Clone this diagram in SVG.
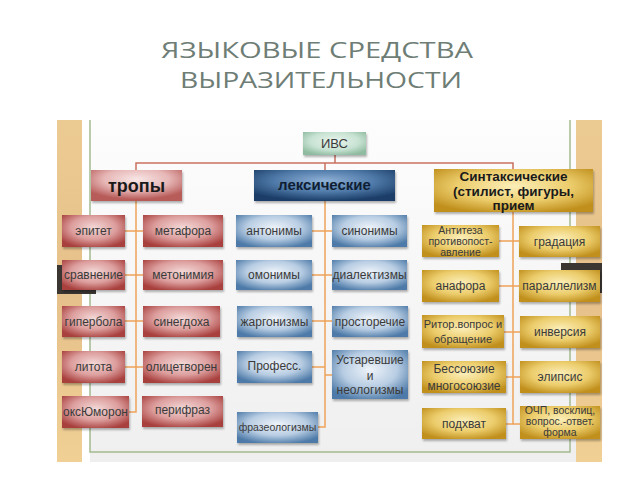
<svg xmlns="http://www.w3.org/2000/svg" width="640" height="480" viewBox="0 0 640 480">
<defs>
<radialGradient id="gRed" cx="50%" cy="40%" r="65%">
<stop offset="0" stop-color="#f3d9d8"/><stop offset="0.55" stop-color="#dc9e9d"/><stop offset="1" stop-color="#a83f3d"/>
</radialGradient>
<radialGradient id="gBlue" cx="50%" cy="40%" r="65%">
<stop offset="0" stop-color="#eef3f9"/><stop offset="0.55" stop-color="#b8cde3"/><stop offset="1" stop-color="#4d7aa8"/>
</radialGradient>
<radialGradient id="gGold" cx="50%" cy="40%" r="65%">
<stop offset="0" stop-color="#fbeeb8"/><stop offset="0.55" stop-color="#eccd6c"/><stop offset="1" stop-color="#c08f1c"/>
</radialGradient>
<radialGradient id="gNavy" cx="50%" cy="35%" r="65%">
<stop offset="0" stop-color="#8fb1d6"/><stop offset="0.55" stop-color="#4f79a8"/><stop offset="1" stop-color="#1b3e68"/>
</radialGradient>
<radialGradient id="gPink" cx="50%" cy="30%" r="65%">
<stop offset="0" stop-color="#f8e6e6"/><stop offset="0.55" stop-color="#e6b7b6"/><stop offset="1" stop-color="#b85c5a"/>
</radialGradient>
<radialGradient id="gMint" cx="50%" cy="40%" r="65%">
<stop offset="0" stop-color="#eaf5ee"/><stop offset="0.6" stop-color="#c7e2d2"/><stop offset="1" stop-color="#8fbba0"/>
</radialGradient>
<linearGradient id="gBg" x1="0" y1="0" x2="0" y2="1">
<stop offset="0" stop-color="#fdfdfd"/><stop offset="1" stop-color="#efefef"/>
</linearGradient>
<linearGradient id="gTan" x1="0" y1="0" x2="0" y2="1">
<stop offset="0" stop-color="#eccb92"/><stop offset="0.5" stop-color="#e6c08a"/><stop offset="1" stop-color="#f0d095"/>
</linearGradient>
<filter id="sh" x="-10%" y="-10%" width="125%" height="135%">
<feDropShadow dx="1" dy="2" stdDeviation="1.2" flood-color="#000" flood-opacity="0.3"/>
</filter>
</defs>
<style>
.title{font-family:"Open Sans","DejaVu Sans",sans-serif;font-size:22px;fill:#6e7d75;text-anchor:middle}
.t{font-family:"Liberation Sans",Arial,sans-serif;font-size:12px;fill:#3a3a3a;text-anchor:middle}
.s{font-family:"Liberation Sans",Arial,sans-serif;font-size:11px;fill:#3a3a3a;text-anchor:middle}
.x{font-family:"Liberation Sans",Arial,sans-serif;font-size:10.5px;fill:#3a3a3a;text-anchor:middle}
.h{font-family:"Liberation Sans",Arial,sans-serif;font-weight:bold;fill:#1a1a1a;text-anchor:middle}
.red{fill:url(#gRed);filter:url(#sh)}
.blue{fill:url(#gBlue);filter:url(#sh)}
.gold{fill:url(#gGold);filter:url(#sh)}
.or{stroke:#eea25a;stroke-width:1.5;fill:none}
.top{stroke:#c9705f;stroke-width:1.5;fill:none}
</style>
<rect width="640" height="480" fill="#ffffff"/>
<text class="title" x="317" y="58" textLength="312" lengthAdjust="spacingAndGlyphs">ЯЗЫКОВЫЕ СРЕДСТВА</text>
<text class="title" x="321" y="88" textLength="282" lengthAdjust="spacingAndGlyphs">ВЫРАЗИТЕЛЬНОСТИ</text>

<g id="background">
<rect x="57" y="120" width="545" height="342" fill="url(#gBg)"/>
<rect x="57" y="120" width="25" height="342" fill="url(#gTan)"/>
<rect x="82" y="120" width="8" height="342" fill="#ffffff"/>
<rect x="576" y="120" width="26" height="342" fill="url(#gTan)"/>
<polyline points="90,120 90,452 570,452 570,120" fill="none" stroke="#a3bb90" stroke-width="1.5"/>
<rect x="57" y="265" width="39" height="29" fill="#3b3632"/>
<rect x="561" y="263" width="41" height="30" fill="#3b3632"/>
</g>

<g id="connectors">
<polyline class="top" points="335,155 335,163"/>
<polyline class="top" points="136,170 136,163 513,163 513,169"/>
<polyline class="top" points="325,163 325,170"/>
<polyline class="or" points="136,201 136,412 129,412"/>
<line class="or" x1="125" y1="231" x2="143" y2="231"/>
<line class="or" x1="125" y1="275" x2="143" y2="275"/>
<line class="or" x1="125" y1="321" x2="143" y2="321"/>
<line class="or" x1="125" y1="367" x2="143" y2="367"/>
<polyline class="or" points="325,201 325,427 318,427"/>
<line class="or" x1="312" y1="231" x2="332" y2="231"/>
<line class="or" x1="312" y1="275" x2="332" y2="275"/>
<line class="or" x1="312" y1="321" x2="332" y2="321"/>
<line class="or" x1="312" y1="367" x2="325" y2="367"/>
<line class="or" x1="325" y1="375" x2="332" y2="375"/>
<polyline class="or" points="513,212 513,424 506,424"/>
<line class="or" x1="513" y1="424" x2="520" y2="424"/>
<line class="or" x1="499" y1="241" x2="519" y2="241"/>
<line class="or" x1="499" y1="286" x2="519" y2="286"/>
<line class="or" x1="504" y1="332" x2="520" y2="332"/>
<line class="or" x1="506" y1="377" x2="520" y2="377"/>
</g>

<g id="n-ivs"><rect x="303" y="132" width="63" height="23" fill="url(#gMint)" filter="url(#sh)"/><text class="t" x="334.5" y="148" style="font-size:13px">ИВС</text></g>
<g id="n-tropy"><rect x="91" y="170" width="91" height="31" fill="url(#gPink)" filter="url(#sh)"/><text class="h" x="136.5" y="192" style="font-size:18px">тропы</text></g>
<g id="n-leks"><rect x="254" y="170" width="141" height="31" fill="url(#gNavy)" filter="url(#sh)"/><text class="h" x="324.5" y="190" style="font-size:15px;fill:#0f1e33">лексические</text></g>
<g id="n-sint"><rect x="434" y="169" width="159" height="43" fill="url(#gGold)" filter="url(#sh)"/>
<text class="h" style="font-size:13.5px" x="513.5" y="181">Синтаксические</text>
<text class="h" style="font-size:13.5px" x="513.5" y="196">(стилист, фигуры,</text>
<text class="h" style="font-size:13.5px" x="513.5" y="210">прием</text></g>

<g id="n-epitet"><rect class="red" x="62" y="215" width="63" height="32"/><text class="t" x="93.5" y="235">эпитет</text></g>
<g id="n-metafora"><rect class="red" x="143" y="215" width="80" height="32"/><text class="t" x="183" y="235">метафора</text></g>
<g id="n-sravnenie"><rect class="red" x="62" y="260" width="63" height="30"/><text class="t" x="93.5" y="279">сравнение</text></g>
<g id="n-metonimia"><rect class="red" x="143" y="260" width="80" height="30"/><text class="t" x="183" y="279">метонимия</text></g>
<g id="n-giperbola"><rect class="red" x="62" y="306" width="63" height="31"/><text class="t" x="93.5" y="326">гипербола</text></g>
<g id="n-sinegdoha"><rect class="red" x="143" y="306" width="77" height="31"/><text class="t" x="181.5" y="326">синегдоха</text></g>
<g id="n-litota"><rect class="red" x="62" y="351" width="63" height="32"/><text class="t" x="93.5" y="371">литота</text></g>
<g id="n-olicetvoren"><rect class="red" x="143" y="351" width="77" height="32"/><text class="t" x="181.5" y="371">олицетворен</text></g>
<g id="n-oksjumoron"><rect class="red" x="62" y="396" width="67" height="32"/><text class="t" x="95.5" y="416">оксЮморон</text></g>
<g id="n-perifraz"><rect class="red" x="142" y="396" width="81" height="31"/><text class="t" x="182.5" y="414">перифраз</text></g>

<g id="n-antonimy"><rect class="blue" x="236" y="215" width="76" height="32"/><text class="t" x="274" y="235">антонимы</text></g>
<g id="n-sinonimy"><rect class="blue" x="332" y="215" width="75" height="32"/><text class="t" x="369.5" y="235">синонимы</text></g>
<g id="n-omonimy"><rect class="blue" x="236" y="260" width="76" height="30"/><text class="t" x="274" y="279">омонимы</text></g>
<g id="n-dialektizmy"><rect class="blue" x="332" y="260" width="75" height="30"/><text class="t" x="369.5" y="279">диалектизмы</text></g>
<g id="n-zhargonizmy"><rect class="blue" x="237" y="306" width="75" height="31"/><text class="t" x="274.5" y="326">жаргонизмы</text></g>
<g id="n-prostorechie"><rect class="blue" x="332" y="306" width="76" height="31"/><text class="t" x="370" y="326">просторечие</text></g>
<g id="n-profess"><rect class="blue" x="237" y="351" width="75" height="32"/><text class="t" x="274.5" y="370">Професс.</text></g>
<g id="n-ustarevshie"><rect class="blue" x="332" y="350" width="76" height="49"/>
<text class="t" x="370" y="364">Устаревшие</text><text class="t" x="370" y="380">и</text><text class="t" x="370" y="394">неологизмы</text></g>
<g id="n-frazeologizmy"><rect class="blue" x="237" y="412" width="81" height="31"/><text class="x" x="277.5" y="431">фразеологизмы</text></g>

<g id="n-antiteza"><rect class="gold" x="422" y="225" width="77" height="32"/>
<text class="x" x="460.5" y="234">Антитеза</text><text class="x" x="460.5" y="245">противопост-</text><text class="x" x="460.5" y="256">авление</text></g>
<g id="n-gradacia"><rect class="gold" x="519" y="226" width="81" height="31"/><text class="t" x="559.5" y="246">градация</text></g>
<g id="n-anafora"><rect class="gold" x="422" y="270" width="77" height="32"/><text class="t" x="460.5" y="290">анафора</text></g>
<g id="n-parallelizm"><rect class="gold" x="519" y="270" width="81" height="32"/><text class="t" x="559.5" y="290">параллелизм</text></g>
<g id="n-ritor"><rect class="gold" x="422" y="315" width="82" height="33"/>
<text class="s" x="463" y="328">Ритор.вопрос и</text><text class="s" x="463" y="343">обращение</text></g>
<g id="n-inversia"><rect class="gold" x="520" y="316" width="80" height="32"/><text class="t" x="560" y="336">инверсия</text></g>
<g id="n-bessojuzie"><rect class="gold" x="422" y="361" width="84" height="32"/>
<text class="t" x="464" y="373">Бессоюзие</text><text class="t" x="464" y="390">многосоюзие</text></g>
<g id="n-elipsis"><rect class="gold" x="520" y="361" width="80" height="32"/><text class="t" x="560" y="381">элипсис</text></g>
<g id="n-podhvat"><rect class="gold" x="422" y="408" width="84" height="31"/><text class="t" x="464" y="428">подхват</text></g>
<g id="n-ochp"><rect class="gold" x="520" y="406" width="80" height="33"/>
<text class="x" x="560" y="414">ОЧП, восклиц,</text><text class="x" x="560" y="425">вопрос.-ответ.</text><text class="x" x="560" y="436">форма</text></g>
</svg>
